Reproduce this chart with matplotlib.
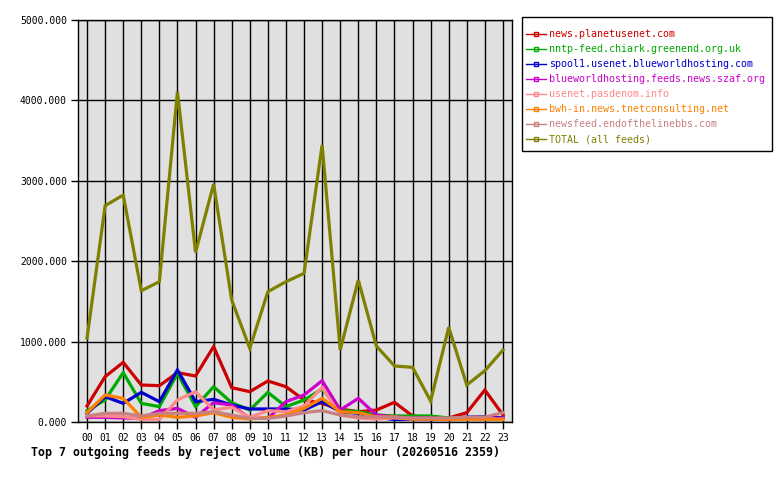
import matplotlib
matplotlib.use("Agg")
import matplotlib.pyplot as plt
from matplotlib.lines import Line2D
from matplotlib.patches import Rectangle

hours = ['00', '01', '02', '03', '04', '05', '06', '07', '08', '09', '10', '11',
         '12', '13', '14', '15', '16', '17', '18', '19', '20', '21', '22', '23']

planetusenet = [199, 564, 742, 460, 452, 614, 572, 937, 427, 377, 510, 439,
                274, 230, 162, 128, 149, 245, 75, 50, 50, 116, 398, 87]
chiark = [141, 274, 614, 232, 191, 605, 191, 439, 240, 149, 369, 191,
          274, 410, 149, 128, 87, 75, 75, 75, 50, 40, 40, 55]
spool1 = [108, 315, 232, 369, 253, 647, 253, 282, 211, 162, 162, 162,
          149, 253, 128, 108, 62, 30, 37, 30, 37, 62, 66, 50]
szaf = [58, 58, 50, 45, 141, 170, 58, 240, 211, 45, 45, 253,
        336, 514, 149, 294, 87, 62, 50, 50, 37, 50, 37, 50]
pasdenom = [75, 75, 66, 33, 33, 274, 377, 149, 183, 58, 141, 128,
            199, 431, 87, 50, 37, 50, 37, 37, 37, 37, 37, 37]
tnet = [116, 336, 294, 58, 87, 58, 75, 116, 58, 37, 58, 87,
        170, 294, 128, 116, 62, 62, 37, 37, 30, 37, 37, 30]
endofline = [75, 108, 108, 75, 108, 108, 108, 128, 87, 45, 45, 75,
             116, 141, 87, 62, 62, 62, 50, 50, 50, 62, 62, 116]
total = [1045, 2690, 2823, 1633, 1745, 4108, 2110, 2960, 1517, 916, 1621, 1745,
         1849, 3445, 895, 1766, 945, 697, 680, 261, 1178, 460, 638, 895]

names = ['news.planetusenet.com', 'nntp-feed.chiark.greenend.org.uk',
         'spool1.usenet.blueworldhosting.com', 'blueworldhosting.feeds.news.szaf.org',
         'usenet.pasdenom.info', 'bwh-in.news.tnetconsulting.net',
         'newsfeed.endofthelinebbs.com', 'TOTAL (all feeds)']
series = [planetusenet, chiark, spool1, szaf, pasdenom, tnet, endofline, total]
colors = ['#cc0000', '#00aa00', '#0000cc', '#cc00cc', '#ff8888', '#ff8000',
          '#c88080', '#808000']

plt.rcParams['font.family'] = 'DejaVu Sans Mono'

fig = plt.figure(figsize=(7.8, 4.8), dpi=100)
ax = fig.add_axes([78 / 780, 1 - 422 / 480, 434 / 780, 402 / 480])
ax.set_facecolor('#e0e0e0')

x = list(range(len(hours)))
for s, c in zip(series, colors):
    ax.plot(x, s, color=c, linewidth=2.3, solid_joinstyle='miter')

ax.set_xlim(-0.5, 23.5)
ax.set_ylim(0, 5000)
ax.set_xticks(x)
ax.set_xticklabels(hours, fontsize=7)
ax.set_yticks([0, 1000, 2000, 3000, 4000, 5000])
ax.set_yticklabels(['0.000', '1000.000', '2000.000', '3000.000', '4000.000', '5000.000'],
                   fontsize=7)
ax.grid(True, color='black', linewidth=1)
ax.set_axisbelow(True)
ax.tick_params(length=5, width=1, color='black', pad=3)
for sp in ax.spines.values():
    sp.set_linewidth(1)

fig.text(31 / 780, 1 - 452 / 480, 'Top 7 outgoing feeds by reject volume (KB) per hour (20260516 2359)',
         fontsize=8.4, fontweight='bold', va='center', ha='left')

# legend box drawn by hand so its size matches
fig.patches.append(Rectangle((522 / 780, 1 - 151 / 480), 250 / 780, 134 / 480,
                             transform=fig.transFigure, fill=False,
                             edgecolor='black', linewidth=1))

handles = [Line2D([0], [0], color=c, linewidth=1, marker='s', markersize=3,
                  markerfacecolor='none', markeredgecolor=c) for c in colors]
leg = fig.legend(handles, names, loc='upper left', bbox_to_anchor=(526 / 780, 1 - 29 / 480),
                 fontsize=7.2, frameon=False, handlelength=2.0,
                 handletextpad=0.3, labelspacing=0.5, borderpad=0,
                 borderaxespad=0)
for t, c in zip(leg.get_texts(), colors):
    t.set_color(c)

fig.savefig('out.png', dpi=100)
